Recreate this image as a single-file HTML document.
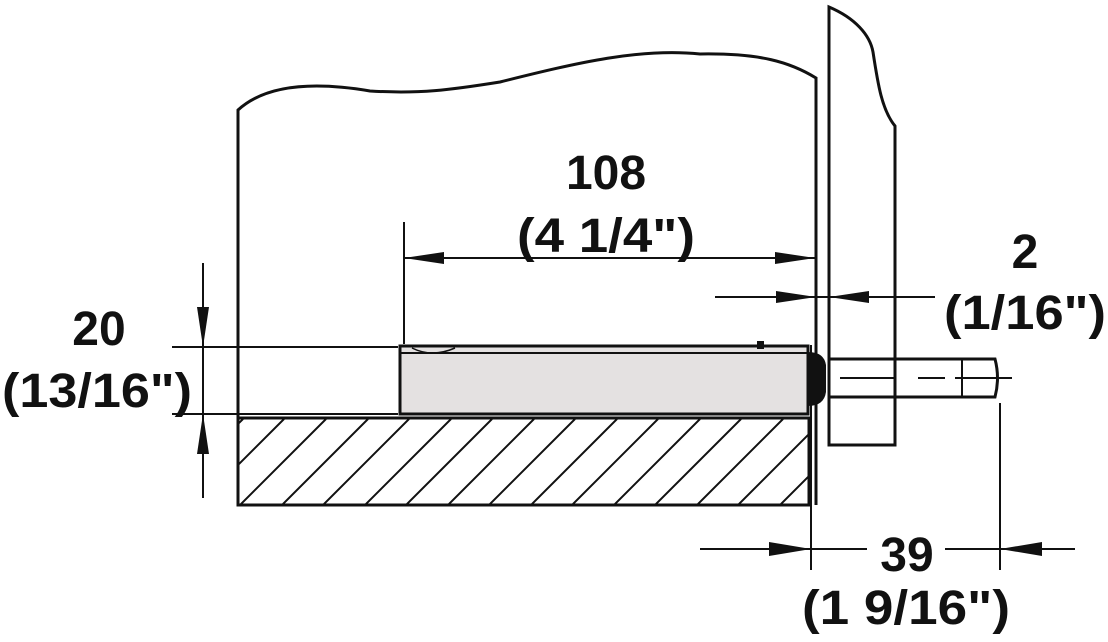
<!DOCTYPE html>
<html><head><style>html,body{margin:0;padding:0;background:#fff}svg{display:block}</style></head>
<body>
<svg width="1108" height="642" viewBox="0 0 1108 642" xmlns="http://www.w3.org/2000/svg" font-family="Liberation Sans, sans-serif" font-weight="bold">
<defs>
<clipPath id="sh"><rect x="239" y="419" width="570" height="85"/></clipPath>
</defs>
<g fill="none" stroke="#111" stroke-width="3">
<!-- cabinet -->
<path d="M238,505 V110 C262,88 305,80 370,91 C420,94 450,90 500,82 C580,62 640,48 700,54 C760,53 790,62 816,78 V505"/>
<!-- front panel -->
<path d="M829,445 V7 C855,18 870,35 873,52 C878,85 882,110 895,126 V445 Z"/>
<!-- shelf -->
<rect x="238" y="418" width="571" height="87"/>
</g>
<g clip-path="url(#sh)" stroke="#111" stroke-width="2">
<path d="M157,505 l86,-86 M198,505 l86,-86 M240,505 l86,-86 M282,505 l86,-86 M323,505 l86,-86 M365,505 l86,-86 M406,505 l86,-86 M448,505 l86,-86 M489,505 l86,-86 M531,505 l86,-86 M572,505 l86,-86 M614,505 l86,-86 M655,505 l86,-86 M697,505 l86,-86 M738,505 l86,-86 M780,505 l86,-86"/>
</g>
<!-- housing -->
<rect x="400" y="346" width="408" height="68" fill="#e4e1e1" stroke="#111" stroke-width="3"/>
<line x1="400" y1="353" x2="808" y2="353" stroke="#111" stroke-width="2"/>
<path d="M412,348 Q432,358 455,348" fill="none" stroke="#111" stroke-width="1.5"/>
<rect x="757" y="341" width="7" height="8" fill="#111"/>
<!-- ring -->
<path d="M808,352 Q824,352 826,365 V392 Q824,406 808,406 Z" fill="#111"/>
<line x1="811" y1="345" x2="811" y2="570" stroke="#111" stroke-width="2"/>
<!-- plunger -->
<g fill="none" stroke="#111" stroke-width="3">
<path d="M829,359 H995 Q1000,378 995,397 H829"/>
<line x1="962" y1="359" x2="962" y2="397" stroke-width="2"/>
</g>
<path d="M840,378 H895 M918,378 H945 M955,378 H1012" stroke="#111" stroke-width="2"/>
<!-- dims -->
<g stroke="#111" stroke-width="2" fill="none">
<line x1="404" y1="222" x2="404" y2="344"/>
<line x1="404" y1="258" x2="815" y2="258"/>
<line x1="172" y1="347" x2="398" y2="347"/>
<line x1="172" y1="414" x2="398" y2="414"/>
<line x1="203" y1="263" x2="203" y2="498"/>
<line x1="715" y1="297" x2="935" y2="297"/>
<line x1="1000" y1="403" x2="1000" y2="570"/>
<line x1="700" y1="549" x2="867" y2="549"/>
<line x1="945" y1="549" x2="1075" y2="549"/>
</g>
<g fill="#111">
<path d="M404,258 l40,-6 v12 Z"/>
<path d="M815,258 l-40,-6 v12 Z"/>
<path d="M203,347 l-6,-40 h12 Z"/>
<path d="M203,414 l-6,40 h12 Z"/>
<path d="M816,297 l-40,-6 v12 Z"/>
<path d="M829,297 l40,-6 v12 Z"/>
<path d="M811,549 l-42,-7 v14 Z"/>
<path d="M1000,549 l42,-7 v14 Z"/>
</g>
<g fill="#111" font-size="48" text-anchor="middle">
<text x="606" y="189">108</text>
<text x="606" y="252" textLength="178" lengthAdjust="spacingAndGlyphs">(4 1/4")</text>
<text x="99" y="345">20</text>
<text x="97" y="407" textLength="190" lengthAdjust="spacingAndGlyphs">(13/16")</text>
<text x="1025" y="268">2</text>
<text x="1025" y="329" textLength="162" lengthAdjust="spacingAndGlyphs">(1/16")</text>
<text x="907" y="571">39</text>
<text x="906" y="624" textLength="208" lengthAdjust="spacingAndGlyphs">(1 9/16")</text>
</g>
</svg>
</body></html>
